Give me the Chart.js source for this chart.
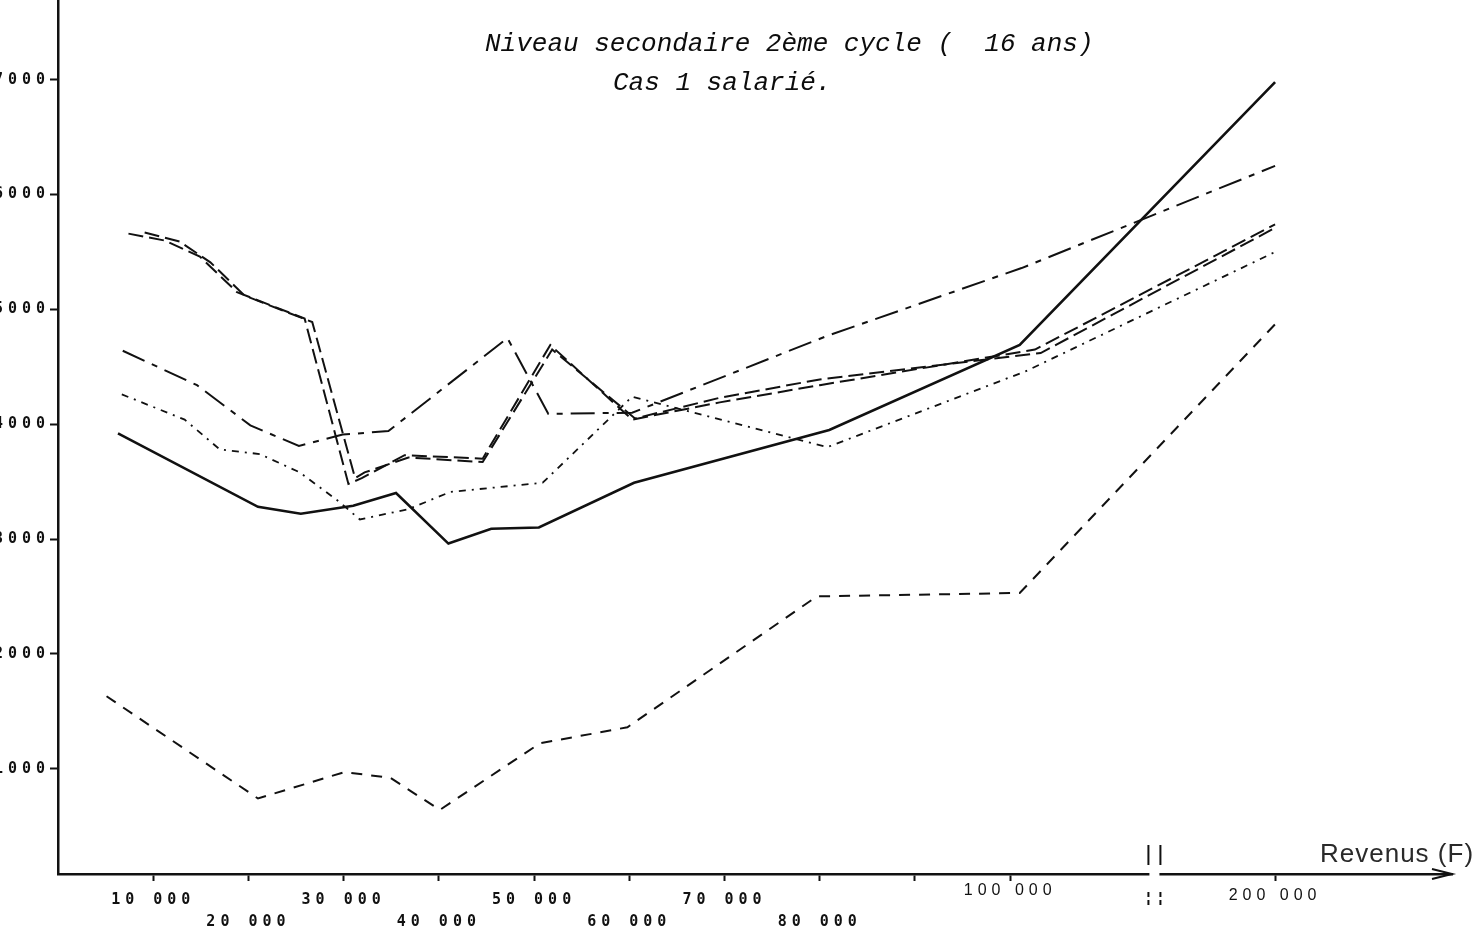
<!DOCTYPE html>
<html lang="fr">
<head>
<meta charset="utf-8">
<title>Niveau secondaire 2ème cycle - Cas 1 salarié</title>
<script src="https://cdn.jsdelivr.net/npm/chart.js@4.4.1/dist/chart.umd.min.js"></script>
<style>
  html, body { margin: 0; padding: 0; background: #fff; }
  #cadre { width: 1478px; height: 934px; }
</style>
</head>
<body>
<div id="cadre"><canvas id="graphique" width="1478" height="934"></canvas></div>
<script>
// graduations
const xTicks = [10000, 20000, 30000, 40000, 50000, 60000, 70000, 80000, 90000, 100000, 200000];
const xTickLabels = ['10 000', '20 000', '30 000', '40 000', '50 000', '60 000', '70 000', '80 000', '', '100 000', '200 000'];
const yTicks = [1000, 2000, 3000, 4000, 5000, 6000, 7000];
const yTickLabels = ['1000', '2000', '3000', '4000', '5000', '6000', '7000'];

// courbes : revenus (F) et montants
const revPlein = [6300, 21000, 25500, 31000, 35500, 41000, 45500, 50500, 60500, 81000, 101000, 200000];
const valPlein = [3920, 3280, 3220, 3290, 3400, 2960, 3090, 3100, 3490, 3950, 4690, 6980];

const revMixte = [6800, 14600, 20200, 25300, 29900, 34700, 47200, 51500, 60300, 80800, 101200, 200000];
const valMixte = [4640, 4340, 3990, 3810, 3910, 3940, 4750, 4090, 4100, 4770, 5360, 6250];

const revDouble1 = [7400, 11200, 14900, 18800, 25900, 30500, 31900, 36400, 44600, 51700, 60300, 69500, 80000, 102600, 200000];
const valDouble1 = [5660, 5600, 5460, 5150, 4920, 3480, 3530, 3730, 3700, 4690, 4040, 4190, 4340, 4650, 5740];

const revDouble2 = [9100, 12800, 16000, 19600, 26700, 31200, 32200, 36800, 44600, 51900, 60600, 69500, 80000, 103200, 200000];
const valDouble2 = [5670, 5590, 5410, 5120, 4890, 3530, 3580, 3710, 3670, 4650, 4050, 4230, 4390, 4620, 5710];

const revPointille = [6700, 13300, 17000, 21200, 25400, 29600, 31700, 36800, 41200, 50900, 60300, 80800, 101600, 200000];
const valPointille = [4260, 4040, 3780, 3740, 3580, 3320, 3170, 3260, 3410, 3490, 4240, 3800, 4460, 5500];

const revTirets = [5100, 21000, 30100, 34900, 40100, 50600, 59800, 79700, 101000, 200000];
const valTirets = [1630, 740, 970, 920, 640, 1220, 1360, 2500, 2530, 4870];

// l'axe des revenus est coupé : au-delà de 110 000 F l'échelle est resserrée
const DEBUT_COUPURE = 110000;
const RESSERRE = 0.198;
const REVENU_COUPURE = 136000;
function axeX(r) {
  return r <= DEBUT_COUPURE ? r : DEBUT_COUPURE + (r - DEBUT_COUPURE) * RESSERRE;
}
function points(revs, vals) {
  return revs.map((r, i) => ({ x: axeX(r), y: vals[i] }));
}

const encre = '#111';
function courbe(label, revs, vals, dash, width) {
  return {
    label: label,
    data: points(revs, vals),
    borderColor: encre,
    borderWidth: width,
    borderDash: dash,
    borderCapStyle: 'butt',
    pointRadius: 0,
    tension: 0,
    fill: false
  };
}

const monoFont = { family: '"DejaVu Sans Mono", monospace', size: 15, weight: 'bold', lineHeight: '22px' };

const habillage = {
  id: 'habillage',
  beforeDraw(chart) {
    chart.ctx.letterSpacing = '5px';
  },
  afterDraw(chart) {
    const ctx = chart.ctx;
    const xs = chart.scales.x;
    ctx.save();
    ctx.letterSpacing = '0px';

    // coupure de l'axe horizontal
    const xc = xs.getPixelForValue(axeX(REVENU_COUPURE));
    const ya = xs.top;
    ctx.fillStyle = '#fff';
    ctx.fillRect(xc - 5, ya - 4, 10, 8);
    ctx.strokeStyle = encre;
    ctx.lineWidth = 2;
    [xc - 6, xc + 6].forEach(function (xx) {
      ctx.setLineDash([]);
      ctx.beginPath();
      ctx.moveTo(xx, ya - 29);
      ctx.lineTo(xx, ya - 9);
      ctx.stroke();
      ctx.setLineDash([5, 3]);
      ctx.beginPath();
      ctx.moveTo(xx, ya + 18);
      ctx.lineTo(xx, ya + 31);
      ctx.stroke();
    });
    ctx.setLineDash([]);

    // flèche au bout de l'axe
    const xr = xs.right;
    ctx.beginPath();
    ctx.moveTo(xr - 20, ya - 5);
    ctx.lineTo(xr, ya);
    ctx.lineTo(xr - 20, ya + 5);
    ctx.stroke();

    // titre de l'axe
    ctx.fillStyle = '#2a2a2a';
    ctx.font = '26px "Liberation Sans", sans-serif';
    ctx.letterSpacing = '1px';
    ctx.textBaseline = 'alphabetic';
    ctx.textAlign = 'left';
    ctx.fillText('Revenus (F)', 1320, 862);

    // titre du graphique
    ctx.letterSpacing = '0px';
    ctx.fillStyle = '#0c0c0c';
    ctx.font = 'italic 26px "Liberation Mono", monospace';
    ctx.fillText('Niveau secondaire 2ème cycle (  16 ans)', 485, 51);
    ctx.fillText('Cas 1 salarié.', 613, 90);
    ctx.restore();
  }
};

new Chart(document.getElementById('graphique'), {
  type: 'line',
  data: {
    datasets: [
      courbe('Courbe 1', revPlein, valPlein, [], 2.6),
      courbe('Courbe 2', revMixte, valMixte, [24, 8, 6, 8], 2),
      courbe('Courbe 3', revDouble1, valDouble1, [15, 6], 2),
      courbe('Courbe 4', revDouble2, valDouble2, [15, 6], 2),
      courbe('Courbe 5', revPointille, valPointille, [7, 6, 2, 6], 1.8),
      courbe('Courbe 6', revTirets, valTirets, [11, 9], 2)
    ]
  },
  options: {
    responsive: false,
    animation: false,
    devicePixelRatio: 1,
    layout: { padding: { left: 0, right: 26, top: 0, bottom: 0 } },
    plugins: {
      legend: { display: false },
      tooltip: { enabled: false },
      title: { display: false }
    },
    scales: {
      x: {
        type: 'linear',
        min: 0,
        max: 146400,
        afterBuildTicks: function (scale) {
          scale.ticks = xTicks.map(v => ({ value: axeX(v) }));
        },
        afterFit: function (scale) {
          scale.height = 60;
          scale.paddingLeft = 0;
          scale.paddingRight = 0;
        },
        border: { display: true, color: encre, width: 2.5 },
        grid: { drawOnChartArea: false, drawTicks: true, tickLength: 7, tickColor: encre, tickWidth: 2 },
        ticks: {
          autoSkip: false,
          maxRotation: 0,
          padding: 8,
          color: '#111',
          font: function (c) {
            if (c.tick && c.tick.value >= axeX(200000)) {
              return { family: '"Liberation Sans", sans-serif', size: 16, lineHeight: '14px' };
            }
            if (c.tick && c.tick.value >= 100000) {
              return { family: '"Liberation Sans", sans-serif', size: 16, lineHeight: '4px' };
            }
            return monoFont;
          },
          callback: function (value, index) {
            const lab = xTickLabels[index];
            if (index < 8 && index % 2 === 1) return ['', lab];
            return lab;
          }
        }
      },
      y: {
        type: 'linear',
        min: 82,
        max: 7695,
        afterBuildTicks: function (scale) {
          scale.ticks = yTicks.map(v => ({ value: v }));
        },
        afterFit: function (scale) {
          scale.width = 58;
          scale.paddingTop = 0;
          scale.paddingBottom = 0;
        },
        border: { display: true, color: encre, width: 2.5 },
        grid: { drawOnChartArea: false, drawTicks: true, tickLength: 8, tickColor: encre, tickWidth: 2 },
        ticks: {
          padding: 0,
          color: '#111',
          font: monoFont,
          callback: function (value, index) {
            return yTickLabels[index];
          }
        }
      }
    }
  },
  plugins: [habillage]
});
</script>
</body>
</html>
